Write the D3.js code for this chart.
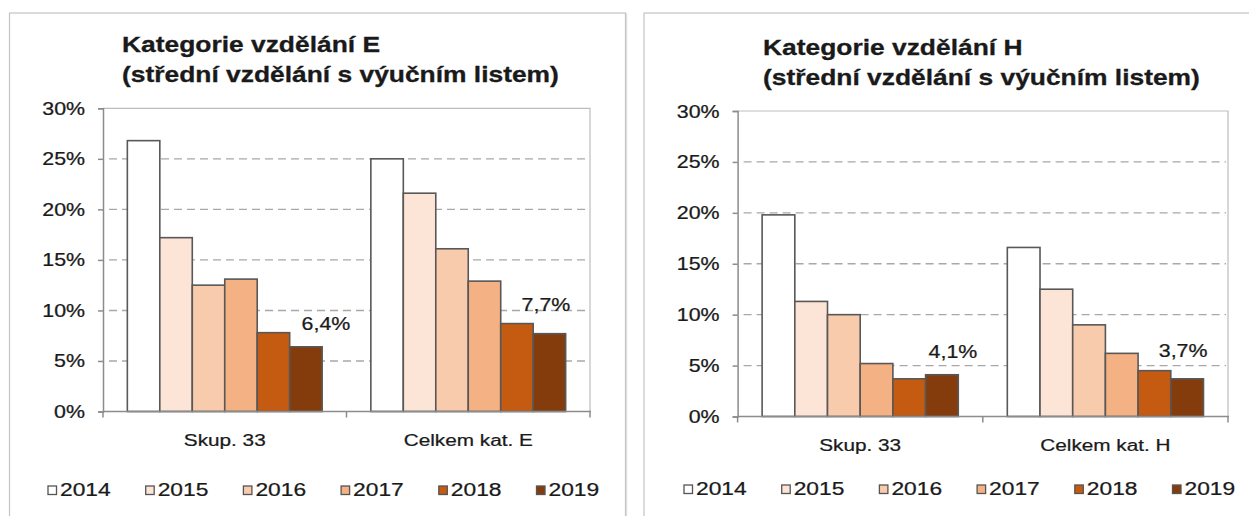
<!DOCTYPE html>
<html>
<head>
<meta charset="utf-8">
<script src="https://cdn.jsdelivr.net/npm/d3@7"></script>
<style>
  body { margin: 0; background: #fff; }
  svg { display: block; font-family: "Liberation Sans", Arial, sans-serif; }
</style>
</head>
<body>
<svg id="chart" width="1249" height="516"></svg>
<script>
// data
const years = ["2014", "2015", "2016", "2017", "2018", "2019"];
const yearColors = ["#ffffff", "#fce4d6", "#f8cbad", "#f4b183", "#c55a11", "#843c0c"];
const yTicks = [0, 5, 10, 15, 20, 25, 30];

const categoriesE = ["Skup. 33", "Celkem kat. E"];
const skup33E = [26.8, 17.2, 12.5, 13.1, 7.8, 6.4];
const celkemE = [25.0, 21.6, 16.1, 12.9, 8.7, 7.7];

const categoriesH = ["Skup. 33", "Celkem kat. H"];
const skup33H = [19.8, 11.3, 10.0, 5.2, 3.7, 4.1];
const celkemH = [16.6, 12.5, 9.0, 6.2, 4.5, 3.7];

const titleE = ["Kategorie vzdělání E", "(střední vzdělání s výučním listem)"];
const titleH = ["Kategorie vzdělání H", "(střední vzdělání s výučním listem)"];

// text in the picture is wider than plain Arial
const SX = 1.2;
const svg = d3.select("#chart");
const pct = v => d3.format(".1f")(v).replace(".", ",") + "%";

function txt(g, x, y, s, size, anchor, weight) {
  return g.append("text")
    .attr("transform", `translate(${x},${y}) scale(${SX},1)`)
    .attr("text-anchor", anchor || "start")
    .attr("font-size", size)
    .attr("font-weight", weight || "normal")
    .attr("fill", "#1a1a1a")
    .attr("stroke", "#1a1a1a")
    .attr("stroke-width", weight === "bold" ? 0.3 : 0.25)
    .text(s);
}

function panel(p) {
  const g = svg.append("g");

  // frame with soft shadow
  g.append("rect").attr("x", p.box[0] + 1).attr("y", p.box[1] + 1)
    .attr("width", p.box[2] - p.box[0]).attr("height", 600)
    .attr("fill", "none").attr("stroke", "#e4e4e4").attr("stroke-width", 1.5);
  g.append("rect").attr("x", p.box[0]).attr("y", p.box[1])
    .attr("width", p.box[2] - p.box[0]).attr("height", 600)
    .attr("fill", "#fff").attr("stroke", "#c4c4c4").attr("stroke-width", 1.2);

  txt(g, p.titleX, p.titleY, p.title[0], 22, "start", "bold");
  txt(g, p.titleX, p.titleY + 29.5, p.title[1], 22, "start", "bold");

  const y = d3.scaleLinear().domain([0, 30]).range([p.zero, p.top]);
  const x = d3.scaleBand().domain(p.categories).range([p.x0, p.x1]);
  const xi = d3.scaleBand().domain(years).range([0, x.bandwidth()])
    .paddingInner(0).paddingOuter(0.75);

  // plot area border (top/right)
  g.append("path")
    .attr("d", `M${p.x0},${p.top}H${p.x1}V${p.zero}`)
    .attr("fill", "none").attr("stroke", "#bdbdbd").attr("stroke-width", 1.2);

  // dashed gridlines
  g.append("g").selectAll("line")
    .data(yTicks.filter(t => t > 0 && t < 30))
    .join("line")
    .attr("x1", p.x0 + 6).attr("x2", p.x1 - 2)
    .attr("y1", d => y(d)).attr("y2", d => y(d))
    .attr("stroke", "#a8a8a8").attr("stroke-width", 1.4)
    .attr("stroke-dasharray", "8,5");

  // y axis
  const yAxis = g.append("g")
    .attr("transform", `translate(${p.x0},0)`)
    .call(d3.axisLeft(y).tickValues(yTicks).tickSize(5).tickFormat(""));
  yAxis.select(".domain").attr("stroke", "#8c8c8c").attr("stroke-width", 1.5);
  yAxis.selectAll(".tick line").attr("stroke", "#8c8c8c").attr("stroke-width", 1.5);
  yTicks.forEach(t => txt(g, p.x0 - 18, y(t) + 6.5, t + "%", 17.8, "end"));

  // bars
  const series = p.categories.map((c, i) => ({ cat: c, vals: p.values[i] }));
  series.forEach(s => {
    g.append("g").selectAll("rect")
      .data(s.vals)
      .join("rect")
      .attr("x", (d, i) => x(s.cat) + xi(years[i]))
      .attr("y", d => y(d))
      .attr("width", xi.bandwidth())
      .attr("height", d => y(0) - y(d))
      .attr("fill", (d, i) => yearColors[i])
      .attr("stroke", "#585858").attr("stroke-width", 1.6);
  });

  // x axis with ticks at category boundaries
  g.append("line").attr("x1", p.x0).attr("x2", p.x1 + 1)
    .attr("y1", p.zero).attr("y2", p.zero)
    .attr("stroke", "#8c8c8c").attr("stroke-width", 1.5);
  g.append("g").selectAll("line")
    .data([p.x0, x(p.categories[1]), p.x1])
    .join("line")
    .attr("x1", d => d).attr("x2", d => d)
    .attr("y1", p.zero).attr("y2", p.zero + 6)
    .attr("stroke", "#8c8c8c").attr("stroke-width", 1.5);

  p.categories.forEach(c => {
    txt(g, x(c) + x.bandwidth() / 2, p.zero + 34, c, 17.3, "middle");
  });

  // value labels of the last year
  series.forEach((s, i) => {
    const last = s.vals[s.vals.length - 1];
    const cx = x(s.cat) + xi(years[years.length - 1]) + xi.bandwidth() / 2;
    txt(g, cx + p.labelDx[i], y(last) - p.labelDy[i], pct(last), 17.8, "middle");
  });

  // legend
  const lg = g.append("g").attr("transform", `translate(${p.legendX},${p.legendY})`);
  years.forEach((yr, i) => {
    lg.append("rect").attr("x", i * 97.7).attr("y", -10)
      .attr("width", 8.5).attr("height", 8.5)
      .attr("fill", yearColors[i]).attr("stroke", "#555").attr("stroke-width", 1.3);
    txt(lg, i * 97.7 + 12, 0, yr, 19, "start");
  });
}

panel({
  box: [9.5, 13, 625.5], title: titleE, titleX: 122, titleY: 52,
  x0: 103, x1: 590, top: 108.3, zero: 411.5,
  categories: categoriesE, values: [skup33E, celkemE],
  labelDx: [20, -3.5], labelDy: [17, 23],
  legendX: 48, legendY: 496
});

panel({
  box: [644, 13, 1262], title: titleH, titleX: 763, titleY: 55,
  x0: 737.6, x1: 1228, top: 111, zero: 416.5,
  categories: categoriesH, values: [skup33H, celkemH],
  labelDx: [11, -4], labelDy: [17, 22],
  legendX: 684, legendY: 495
});
</script>
</body>
</html>
